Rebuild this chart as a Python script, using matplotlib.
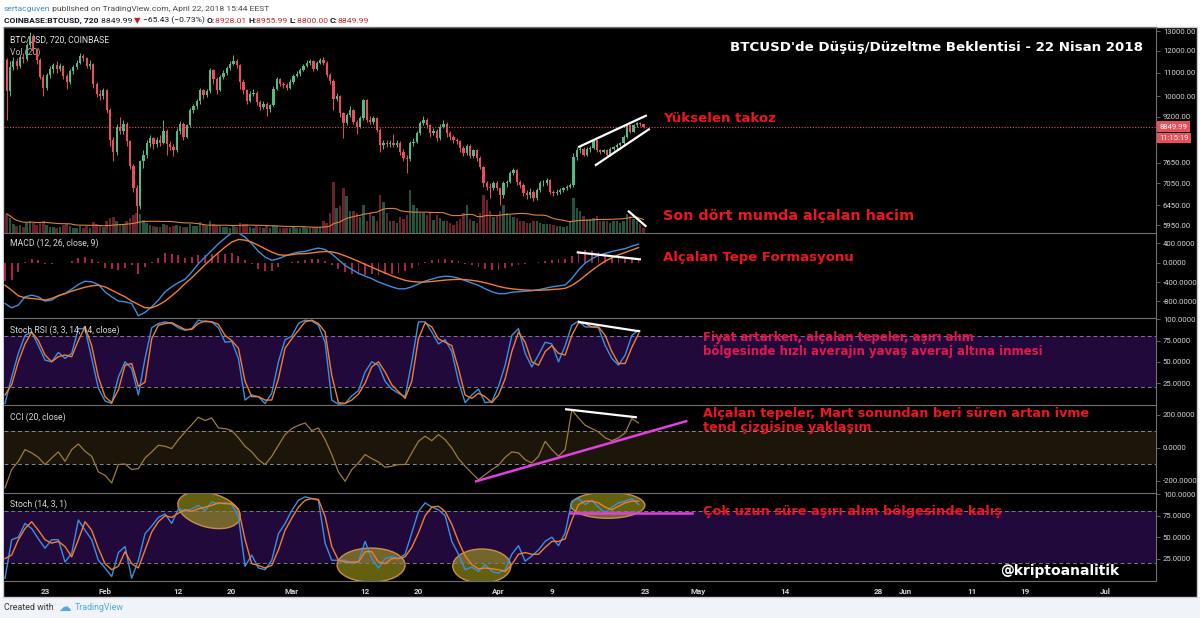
import datetime as dt
import numpy as np
import pandas as pd
import matplotlib
matplotlib.use("Agg")
import matplotlib.pyplot as plt
import matplotlib.dates as mdates
import matplotlib.transforms as mtransforms
from matplotlib.patches import Ellipse, Rectangle
from matplotlib.ticker import NullLocator

plt.rcParams['font.family'] = ['Roboto', 'DejaVu Sans']

# ---- COINBASE:BTCUSD, 12h candles from 2018-01-17 00:00 ----
start = dt.datetime(2018, 1, 17)
first_open = 11550
close = [10200, 11250, 11500, 11300, 11700, 11600, 12300, 12750, 12000, 11550,
         10800, 10350, 10900, 11150, 11350, 11150, 11300, 10850, 10600, 11050,
         11250, 11450, 11750, 11650, 11300, 11400, 10500, 10100, 10000, 10250,
         9460, 8380, 8000, 8850, 8700, 8950, 8350, 7550, 6900, 6420,
         7690, 7900, 8270, 8450, 8250, 8400, 8300, 8700, 8260, 8150,
         8050, 8700, 8950, 8500, 8900, 9460, 9600, 9800, 10250, 10050,
         10200, 11100, 10700, 10250, 10800, 11000, 11200, 11400, 11500, 11350,
         10600, 10250, 9800, 10100, 10150, 9750, 9580, 9700, 9500, 9650,
         10300, 10700, 10500, 10450, 10350, 10600, 10850, 10950, 11100, 11300,
         11450, 11500, 11150, 11450, 11550, 11450, 10900, 10650, 9900, 10000,
         9330, 8970, 9270, 9460, 9030, 8850, 9150, 9850, 9100, 9030,
         9150, 8730, 8220, 8300, 8250, 8300, 8230, 8300, 8000, 7800,
         7780, 8270, 8330, 8610, 8970, 9090, 8900, 8610, 8700, 8440,
         8850, 8950, 8610, 8500, 8385, 8350, 8110, 7950, 8200, 7850,
         8050, 7790, 7530, 7040, 6950, 6900, 7040, 6900, 6720, 7040,
         7090, 7330, 7430, 7090, 7000, 6770, 6720, 6810, 6630, 6860,
         7040, 7060, 7140, 6810, 6770, 6800, 6860, 6900, 6950, 7000,
         7840, 8050, 8100, 7900, 8080, 8130, 8380, 8050, 7990, 8050,
         7890, 8100, 8150, 8215, 8270, 8500, 8900, 8670, 8900, 8960,
         8928.01, 8849.99]
high = [11650, 11500, 11700, 11650, 11850, 11900, 12400, 12950, 12850, 12150,
        11650, 10950, 11000, 11300, 11450, 11500, 11450, 11350, 10950, 11150,
        11350, 11550, 11900, 11850, 11700, 11550, 11450, 10600, 10250, 10350,
        10300, 9550, 8500, 8950, 9200, 9100, 9000, 8400, 7600, 7000,
        7750, 8050, 8400, 8550, 8500, 8500, 8550, 9100, 8750, 8350,
        8250, 8800, 9050, 9000, 8950, 9550, 9700, 9900, 10350, 10300,
        10300, 11200, 11150, 10800, 10900, 11100, 11300, 11500, 11800, 11600,
        11400, 10700, 10300, 10200, 10300, 10200, 9850, 9800, 9750, 9700,
        10400, 10800, 10750, 10600, 10550, 10700, 10950, 11050, 11200, 11400,
        11550, 11600, 11550, 11500, 11650, 11700, 11500, 11000, 10700, 10150,
        10050, 9400, 9350, 9600, 9500, 9100, 9250, 9900, 9900, 9250,
        9250, 9200, 8800, 8400, 8400, 8400, 8600, 8400, 8350, 8100,
        7900, 8350, 8450, 8700, 9050, 9250, 9150, 8950, 8800, 8750,
        8950, 9100, 9000, 8700, 8550, 8450, 8400, 8200, 8250, 8250,
        8100, 8100, 7850, 7550, 7100, 7050, 7100, 7100, 6950, 7100,
        7150, 7400, 7500, 7450, 7150, 7050, 6850, 6900, 6850, 6900,
        7100, 7150, 7200, 7180, 6850, 6880, 6900, 6950, 7000, 7050,
        7950, 8150, 8180, 8150, 8150, 8200, 8420, 8400, 8080, 8100,
        8100, 8150, 8200, 8280, 8330, 8550, 8950, 8930, 8950, 9030,
        9000, 8955.99]
low = [9100, 10000, 11100, 11150, 11200, 11450, 11500, 12200, 11900, 11400,
       10700, 10000, 10250, 10750, 11000, 11000, 11050, 10700, 10300, 10500,
       10950, 11150, 11400, 11500, 11200, 11150, 10350, 9950, 9850, 9900,
       9350, 8200, 7700, 7900, 8600, 8600, 8200, 7450, 6800, 6000,
       6350, 7500, 7800, 8150, 8100, 8150, 8200, 8250, 7900, 8050,
       7850, 8000, 8600, 8400, 8450, 8850, 9350, 9500, 9700, 9900,
       9950, 10150, 10500, 10100, 10200, 10700, 10900, 11100, 11350, 11200,
       10300, 10100, 9700, 9750, 10000, 9650, 9450, 9500, 9250, 9400,
       9600, 10250, 10400, 10350, 10250, 10300, 10500, 10800, 10850, 11050,
       11250, 11350, 11050, 11100, 11400, 11350, 10800, 10500, 9450, 9800,
       9200, 8440, 8900, 9200, 8950, 8600, 8800, 9100, 9000, 8950,
       8950, 8650, 8000, 8100, 8150, 8150, 8150, 8150, 7900, 7700,
       7330, 7700, 8200, 8300, 8550, 8900, 8800, 8500, 8550, 8350,
       8400, 8800, 8500, 8400, 8300, 8250, 8000, 7850, 7900, 7800,
       7800, 7700, 7450, 6950, 6850, 6650, 6850, 6850, 6456, 6650,
       6950, 7050, 7280, 7000, 6900, 6700, 6620, 6650, 6550, 6580,
       6800, 6980, 7000, 6750, 6700, 6720, 6750, 6800, 6850, 6900,
       6950, 7750, 7950, 7850, 7850, 8000, 8100, 8000, 7940, 7950,
       7850, 7850, 8050, 8100, 8180, 8230, 8450, 8620, 8650, 8850,
       8880, 8800]
volume = [19, 15, 9, 7, 8, 6, 10, 12, 10, 8,
          11, 12, 8, 6, 6, 5, 6, 8, 9, 7,
          5, 5, 7, 5, 7, 5, 11, 9, 7, 6,
          12, 15, 16, 12, 9, 8, 12, 15, 18, 20,
          19, 13, 10, 8, 7, 6, 6, 9, 8, 6,
          7, 8, 7, 6, 6, 9, 7, 7, 11, 8,
          7, 12, 9, 8, 7, 6, 6, 5, 8, 6,
          10, 9, 9, 6, 5, 7, 6, 5, 7, 5,
          8, 7, 5, 5, 5, 5, 6, 5, 5, 6,
          5, 5, 6, 5, 6, 12, 10, 20, 51, 25,
          27, 45, 37, 22, 22, 20, 16, 28, 12, 20,
          17, 12, 38, 31, 20, 12, 12, 10, 16, 14,
          18, 43, 28, 25, 20, 20, 18, 20, 13, 18,
          15, 12, 12, 10, 8, 12, 14, 20, 28, 14,
          12, 10, 20, 38, 33, 22, 16, 17, 22, 28,
          20, 18, 16, 15, 12, 12, 10, 10, 12, 12,
          10, 9, 9, 9, 8, 7, 7, 6, 7, 12,
          35, 25, 22, 17, 14, 14, 15, 17, 12, 12,
          12, 10, 12, 12, 10, 12, 19, 17, 14, 12,
          9, 5]

# ---- indicators, one reading per day (00:00) from 2018-01-17 ----
macd_line = [-842, -931, -876, -705, -671, -705, -794, -773, -684, -637,
             -548, -452, -384, -397, -452, -602, -705, -794, -808, -842,
             -1095, -1026, -910, -773, -602, -500, -411, -343, -192, -21,
             115, 252, 389, 505, 615, 615, 526, 389, 232, 115,
             47, 81, 136, 184, 218, 230, 270, 300, 270, 180,
             60, -60, -140, -220, -280, -330, -400, -450, -500, -540,
             -540, -500, -440, -380, -340, -300, -280, -290, -320, -370,
             -420, -470, -540, -600, -640, -640, -610, -600, -590, -580,
             -560, -530, -500, -480, -460, -330, -150, -10, 80, 150,
             190, 230, 260, 290, 340, 380]
macd_signal = [-466, -568, -684, -726, -739, -753, -773, -739, -684, -637,
               -589, -548, -507, -479, -466, -500, -568, -637, -705, -794,
               -862, -931, -931, -876, -794, -684, -568, -431, -315, -178,
               -42, 81, 204, 321, 423, 478, 464, 423, 355, 286,
               218, 163, 150, 163, 184, 185, 200, 220, 230, 222,
               190, 140, 85, 25, -35, -95, -155, -215, -270, -320,
               -365, -390, -400, -400, -390, -375, -360, -350, -345, -350,
               -365, -385, -415, -450, -490, -520, -540, -555, -565, -570,
               -570, -565, -555, -545, -530, -470, -380, -270, -160, -60,
               30, 100, 160, 210, 260, 310]
srsi_k = [1, 32, 60, 81, 85, 69, 52, 50, 61, 54,
          60, 89, 89, 54, 19, 4, 1, 32, 50, 42,
          11, 54, 90, 95, 97, 95, 90, 87, 89, 99,
          97, 97, 90, 73, 74, 54, 5, 11, 9, 1,
          13, 50, 76, 80, 95, 99, 98, 93, 73, 5,
          0, 1, 10, 16, 38, 50, 46, 27, 18, 13,
          9, 50, 97, 97, 85, 71, 76, 62, 27, 2,
          11, 18, 2, 3, 21, 46, 81, 89, 60, 44,
          58, 73, 71, 50, 69, 93, 98, 91, 91, 90,
          69, 54, 46, 58, 81, 87]
srsi_d = [11, 23, 50, 71, 85, 75, 58, 50, 56, 58,
          56, 75, 91, 69, 32, 9, 2, 17, 46, 48,
          21, 26, 77, 93, 95, 96, 92, 88, 88, 95,
          98, 97, 94, 81, 75, 66, 27, 9, 9, 5,
          5, 30, 66, 77, 87, 97, 99, 95, 85, 34,
          2, 1, 5, 12, 25, 44, 50, 38, 23, 15,
          7, 27, 77, 96, 91, 77, 73, 69, 42, 11,
          7, 13, 9, 2, 11, 30, 62, 85, 73, 50,
          46, 62, 69, 60, 58, 81, 96, 95, 91, 91,
          81, 62, 48, 48, 67, 83]
cci = [-242, -131, -81, -10, -30, -57, -101, -61, -24, -81,
       -10, 24, -20, -51, -145, -166, -212, -101, -97, -131,
       -125, -61, -24, 16, 10, -4, 50, 97, 141, 186,
       166, 182, 121, 117, 105, 61, 10, -24, -71, -101,
       -51, 16, 81, 117, 137, 151, 105, 121, 50, -40,
       -145, -202, -131, -91, -40, -65, -85, -117, -111, -101,
       -101, -30, 40, 71, 44, 81, 50, 0, -65, -111,
       -152, -192, -162, -131, -105, -57, -24, -30, -71, -91,
       -51, 40, -10, -51, -10, 230, 182, 137, 117, 97,
       61, 44, 61, 91, 178, 151]
stoch_k = [2, 47, 50, 66, 60, 48, 37, 47, 47, 21,
           31, 70, 58, 47, 23, 14, 4, 32, 39, 2,
           23, 54, 63, 73, 77, 66, 83, 80, 83, 87,
           81, 91, 89, 90, 88, 74, 16, 29, 14, 12,
           23, 54, 66, 81, 93, 97, 95, 93, 43, 23,
           23, 23, 19, 21, 45, 25, 14, 25, 27, 25,
           30, 55, 80, 90, 85, 82, 75, 45, 30, 12,
           15, 10, 18, 10, 8, 12, 30, 40, 22, 28,
           35, 45, 50, 40, 55, 92, 95, 88, 93, 85,
           78, 85, 90, 92, 95, 88]
stoch_d = [25, 29, 47, 60, 68, 58, 47, 43, 45, 39,
           27, 47, 68, 58, 37, 19, 12, 16, 33, 19,
           14, 35, 56, 68, 75, 73, 78, 82, 80, 83,
           85, 87, 90, 89, 89, 83, 47, 19, 17, 14,
           17, 35, 58, 72, 85, 93, 95, 94, 74, 39,
           23, 21, 21, 21, 33, 33, 21, 19, 25, 25,
           27, 38, 55, 75, 85, 86, 80, 65, 45, 28,
           18, 13, 14, 13, 12, 10, 18, 30, 32, 30,
           30, 38, 45, 45, 48, 70, 88, 92, 92, 90,
           85, 82, 86, 90, 92, 92]

price_ticks = [13000, 12000, 11000, 10000, 9200, 7650, 7050, 6450, 5950]
last_price = 8849.99
date_ticks = ["2018-01-23", "2018-02-01", "2018-02-12", "2018-02-20", "2018-03-01",
              "2018-03-12", "2018-03-20", "2018-04-01", "2018-04-09", "2018-04-23",
              "2018-05-01", "2018-05-14", "2018-05-28", "2018-06-01", "2018-06-11",
              "2018-06-19", "2018-07-01"]
date_labels = ["23", "Feb", "12", "20", "Mar", "12", "20", "Apr", "9", "23",
               "May", "14", "28", "Jun", "11", "19", "Jul"]

# ---- styling ----
GREEN = '#53b987'
RED = '#eb4d5c'
BLUE = '#3a8fe0'
ORANGE = '#f07d32'
GRID = '#6e6e6e'
TXT = '#d4d4d4'
ANN = '#ee1620'
PURPLE = '#22093c'

W, H = 1200, 618
fig = plt.figure(figsize=(12, 6.18), dpi=100)
fig.patch.set_facecolor('white')


def fx(px):
    return px / W


def fy(py):
    return 1 - py / H


fig.add_artist(Rectangle((0, 0), 1, fy(597), transform=fig.transFigure,
                         fc='#f0f3f7', ec='none', zorder=0))
fig.add_artist(Rectangle((fx(3), fy(597)), 1194 / W, 570 / H, transform=fig.transFigure,
                         fc='black', ec='#c9ccd3', lw=1, zorder=0))

base = mdates.date2num(start)
xc = base + 0.25 + 0.5 * np.arange(len(close))
xd = base + np.arange(len(macd_line))
x0, x1 = base - 0.15, base + 172.6

L, R = 4, 1156


def panel(top, bottom):
    ax = fig.add_axes([fx(L), fy(bottom), (R - L) / W, (bottom - top) / H])
    ax.set_facecolor('black')
    for s in ax.spines.values():
        s.set_visible(False)
    for side in ('right', 'top'):
        ax.spines[side].set_visible(True)
        ax.spines[side].set_color(GRID)
        ax.spines[side].set_linewidth(0.8)
    ax.yaxis.tick_right()
    ax.tick_params(axis='y', colors=GRID, labelcolor=TXT, labelsize=5.6,
                   length=3, width=0.6, pad=2)
    ax.tick_params(axis='x', bottom=False, labelbottom=False)
    ax.set_xlim(x0, x1)
    return ax


# ---- price + volume ----
ax_p = panel(27, 233)
axv = ax_p.twinx()
ax_p.set_zorder(axv.get_zorder() + 1)
ax_p.patch.set_visible(False)
axv.set_facecolor('black')
axv.set_ylim(0, 204)
axv.set_yticks([])
for s in axv.spines.values():
    s.set_visible(False)
ax_p.yaxis.tick_right()

o = np.array([first_open] + close[:-1], dtype=float)
c = np.array(close, dtype=float)
up = c >= o
cols = np.where(up, GREEN, RED)
axv.bar(xc, volume, width=0.38, color=cols, alpha=0.45, linewidth=0)
vol_ma = pd.Series(volume, dtype=float).rolling(20, min_periods=1).mean()
axv.plot(xc, vol_ma, color='#d9833c', lw=0.8)

ax_p.set_yscale('log')
ax_p.vlines(xc, low, high, colors=cols, lw=0.7)
ax_p.bar(xc, np.maximum(np.abs(c - o), 12), bottom=np.minimum(o, c), width=0.34,
         color=cols, linewidth=0)
ax_p.set_ylim(5767, 13211)
ax_p.set_xlim(x0, x1)
ax_p.set_yticks(price_ticks, labels=[f'{v:.2f}' for v in price_ticks])
ax_p.yaxis.set_minor_locator(NullLocator())
ax_p.tick_params(axis='y', colors=GRID, labelcolor=TXT, labelsize=5.6,
                 length=3, width=0.6, pad=2)
ax_p.axhline(last_price, color='#d9545c', lw=0.8, ls=(0, (1, 1.5)))
btrans = mtransforms.blended_transform_factory(ax_p.transAxes, ax_p.transData)
ax_p.text(1.003, last_price, f'{last_price:.2f}', transform=btrans, ha='left',
          va='center', fontsize=5.6, color='white', clip_on=False,
          bbox=dict(boxstyle='square,pad=0.3', fc='#e8505b', ec='none'))
ax_p.annotate('11:15:19', xy=(1.003, last_price), xycoords=btrans,
              xytext=(0, -8.3), textcoords='offset points', ha='left', va='center',
              fontsize=5.6, color='white', annotation_clip=False,
              bbox=dict(boxstyle='square,pad=0.3', fc='#e8505b', ec='none'))

# wedge and volume trend marks
ax_p.plot([base + 86.1, base + 96.1], [8160, 9245], color='white', lw=1.6)
ax_p.plot([base + 88.6, base + 96.55], [7583, 8752], color='white', lw=1.6)
axv.plot([base + 93.55, base + 96.05], [21.3, 7], color='white', lw=1.6)

# ---- MACD ----
ax_m = panel(233, 318)
hist = np.array(macd_line) - np.array(macd_signal)
ax_m.bar(xd, hist, width=0.28, color='#a8204f', linewidth=0)
ax_m.plot(xd, macd_line, color=BLUE, lw=1)
ax_m.plot(xd, macd_signal, color=ORANGE, lw=1)
ax_m.plot([base + 85.9, base + 95.2], [211, 68], color='white', lw=1.6)
ax_m.set_ylim(-1142, 611)
ax_m.set_yticks([400, 0, -400, -800], labels=['400.0000', '0.0000', '-400.0000', '-800.0000'])

# ---- Stoch RSI ----
ax_r = panel(318, 405)
ax_r.axhspan(20, 80, color=PURPLE, lw=0, zorder=0)
for lv in (80, 20):
    ax_r.axhline(lv, color='#7f7a90', lw=0.7, ls=(0, (4, 3)))
ax_r.plot(xd, srsi_k, color=BLUE, lw=1)
ax_r.plot(xd, srsi_d, color=ORANGE, lw=1)
ax_r.plot([base + 86.1, base + 95.1], [96.8, 85.9], color='white', lw=1.6)
ax_r.set_ylim(-0.8, 101.5)
ax_r.set_yticks([100, 75, 50, 25], labels=['100.0000', '75.0000', '50.0000', '25.0000'])

# ---- CCI ----
ax_c = panel(405, 493)
ax_c.axhspan(-100, 100, color='#1b150a', lw=0, zorder=0)
for lv in (100, -100):
    ax_c.axhline(lv, color='#8a8a8a', lw=0.7, ls=(0, (4, 3)))
ax_c.plot(xd, cci, color='#9c7d3c', lw=0.9)
ax_c.plot([base + 84.15, base + 94.6], [234, 186], color='white', lw=1.6)
ax_c.plot([base + 70.65, base + 102.15], [-202, 162], color='#e23ee0', lw=1.8)
ax_c.set_ylim(-273, 260)
ax_c.set_yticks([200, 0, -200], labels=['200.0000', '0.0000', '-200.0000'])

# ---- Stoch ----
ax_s = panel(493, 581)
ax_s.spines['bottom'].set_visible(True)
ax_s.spines['bottom'].set_color(GRID)
ax_s.axhspan(20, 80, color=PURPLE, lw=0, zorder=0)
for lv in (80, 20):
    ax_s.axhline(lv, color='#7f7a90', lw=0.7, ls=(0, (4, 3)))
ax_s.plot(xd, stoch_k, color=BLUE, lw=1)
ax_s.plot(xd, stoch_d, color=ORANGE, lw=1)
ax_s.plot([base + 84.7, base + 103], [78, 78], color='#e23ee0', lw=1.8)
for ed, ev, ew, eh, ea in [(30.6, 81.4, 64, 34, -15), (54.9, 17.4, 68, 34, 0),
                           (71.5, 16.3, 58, 34, 0), (90.4, 87.2, 74, 26, 0)]:
    tr = fig.dpi_scale_trans + mtransforms.ScaledTranslation(base + ed, ev, ax_s.transData)
    ax_s.add_patch(Ellipse((0, 0), ew / 100, eh / 100, angle=ea, transform=tr,
                           fc=(0.78, 0.76, 0.12, 0.5), ec='#c98f4a', lw=1))
ax_s.set_ylim(-1.2, 101.5)
ax_s.set_yticks([100, 75, 50, 25], labels=['100.0000', '75.0000', '50.0000', '25.0000'])
ax_s.set_xlim(x0, x1)
tick_x = mdates.date2num([dt.datetime.strptime(s, '%Y-%m-%d') for s in date_ticks])
ax_s.set_xticks(tick_x, labels=date_labels)
ax_s.tick_params(axis='x', bottom=True, labelbottom=True, length=0, pad=5,
                 labelsize=5.8, labelcolor=TXT)
for t in ax_s.get_xticklabels():
    t.set_fontweight('bold')

# ---- overlay texts in pixel coordinates ----
ov = fig.add_axes([0, 0, 1, 1])
ov.set_xlim(0, W)
ov.set_ylim(H, 0)
ov.axis('off')


def chain(x, y, parts, size):
    prev = None
    for txt, col, wt in parts:
        if prev is None:
            prev = ov.text(x, y, txt, color=col, fontweight=wt, fontsize=size,
                           va='baseline', ha='left')
        else:
            prev = ov.annotate(txt, xy=(1, 0), xycoords=prev, color=col, fontweight=wt,
                               fontsize=size, va='bottom', ha='left')


chain(4, 11, [("sertacguven", '#3d8bd3', 'normal'),
              (" published on TradingView.com, April 22, 2018 15:44 EEST", '#4a4a4a', 'normal')], 6.1)
HR = '#c62828'
chain(4, 23, [("COINBASE:BTCUSD, 720 ", '#131722', 'bold'), ("8849.99 ", '#131722', 'normal'),
              ("▼ ", '#c81d1d', 'normal'), ("\u221265.43 (\u22120.73%) ", '#131722', 'normal'),
              ("O:", '#131722', 'bold'), ("8928.01 ", HR, 'normal'),
              ("H:", '#131722', 'bold'), ("8955.99 ", HR, 'normal'),
              ("L:", '#131722', 'bold'), ("8800.00 ", HR, 'normal'),
              ("C:", '#131722', 'bold'), ("8849.99", HR, 'normal')], 6.1)

for px, py, txt, col in [(10, 40, "BTC/USD, 720, COINBASE", '#e6e6e6'), (10, 52, "Vol (20)", '#bdbdbd'),
                         (10, 243, "MACD (12, 26, close, 9)", '#d9d9d9'),
                         (10, 330, "Stoch RSI (3, 3, 14, 14, close)", '#d9d9d9'),
                         (10, 417, "CCI (20, close)", '#d9d9d9'),
                         (10, 504, "Stoch (14, 3, 1)", '#d9d9d9')]:
    ov.text(px, py, txt, color=col, fontsize=6.2, va='center', ha='left')

bold = dict(family=['DejaVu Sans'], fontweight='bold', va='center', ha='left')
ov.text(730, 48, "BTCUSD'de Düşüş/Düzeltme Beklentisi - 22 Nisan 2018", color='white', fontsize=9.6, **bold)
ov.text(663, 118, "Yükselen takoz", color=ANN, fontsize=9.6, **bold)
ov.text(663, 216, "Son dört mumda alçalan hacim", color=ANN, fontsize=10.4, **bold)
ov.text(663, 258, "Alçalan Tepe Formasyonu", color=ANN, fontsize=9.5, **bold)
ov.text(703, 337, "Fiyat artarken, alçalan tepeler, aşırı alım", color='#e2184c', fontsize=8.5, **bold)
ov.text(703, 352, "bölgesinde hızlı averajın yavaş averaj altına inmesi", color='#e2184c', fontsize=8.5, **bold)
ov.text(703, 413, "Alçalan tepeler, Mart sonundan beri süren artan ivme", color=ANN, fontsize=9.2, **bold)
ov.text(703, 427, "tend çizgisine yaklaşım", color=ANN, fontsize=9.2, **bold)
ov.text(703, 511, "Çok uzun süre aşırı alım bölgesinde kalış", color=ANN, fontsize=9.4, **bold)
ov.text(1000, 571, "@kriptoanalitik", color='white', fontsize=10, **bold)

ov.text(4, 607, "Created with", color='#333333', fontsize=6.4, va='center', ha='left')
ov.text(58, 607, "\u2601", color='#57a7e0', fontsize=9, va='center', ha='left',
        family=['DejaVu Sans'])
ov.text(75, 607, "TradingView", color='#57a7e0', fontsize=6.4, va='center', ha='left')

fig.savefig('out.png', dpi=100, facecolor=fig.get_facecolor())
